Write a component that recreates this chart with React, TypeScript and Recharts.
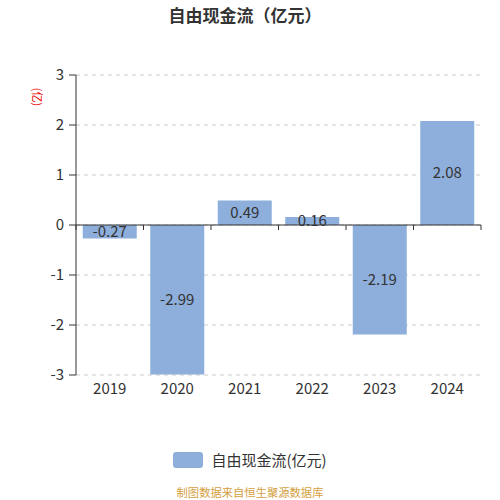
import { Bar, BarChart, CartesianGrid, LabelList, ReferenceLine, XAxis, YAxis } from "recharts";

const years = ["2019", "2020", "2021", "2022", "2023", "2024"];
const freeCashFlow = [-0.27, -2.99, 0.49, 0.16, -2.19, 2.08];
const yTicks = [-3, -2, -1, 0, 1, 2, 3];

const TITLE = "自由现金流（亿元）";
const SERIES_NAME = "自由现金流(亿元)";
const UNIT = "(亿)";
const SOURCE = "制图数据来自恒生聚源数据库";

const BAR_COLOR = "#8eaedb";
const TEXT = "#333";
const FONT = '"Noto Sans CJK SC", "Noto Sans", sans-serif';
const TICK_LEN = 0.1; // zero-line tick length in value units

const data = years.map((year, i) => ({ year, value: freeCashFlow[i] }));

export default function App() {
  return (
    <div
      style={{
        position: "absolute",
        left: 0,
        top: 0,
        width: 500,
        height: 500,
        background: "#fff",
        fontFamily: FONT,
        color: TEXT,
      }}
    >
      <div
        style={{
          position: "absolute",
          top: 4,
          left: 0,
          width: 490,
          textAlign: "center",
          fontSize: 17,
          fontWeight: 700,
          lineHeight: "22px",
        }}
      >
        {TITLE}
      </div>
      <div
        style={{
          position: "absolute",
          left: 29,
          top: 90,
          fontSize: 11,
          color: "#e00",
          transform: "rotate(90deg)",
          transformOrigin: "center",
          lineHeight: "14px",
        }}
      >
        {UNIT}
      </div>

      <BarChart
        width={500}
        height={500}
        data={data}
        margin={{ top: 75, right: 19, bottom: 95, left: 0 }}
        barCategoryGap="10%"
      >
        <CartesianGrid vertical={false} stroke="#ccc" strokeDasharray="4 4" />
        <XAxis
          dataKey="year"
          axisLine={false}
          tickLine={false}
          tickSize={0}
          tickMargin={8}
          height={30}
          tick={{ fontSize: 15, fill: TEXT }}
        />
        <YAxis
          domain={[-3, 3]}
          ticks={yTicks}
          width={76}
          tickSize={7}
          tickMargin={5}
          axisLine={{ stroke: TEXT }}
          tickLine={{ stroke: TEXT }}
          tick={{ fontSize: 15, fill: TEXT }}
        />
        <Bar dataKey="value" fill={BAR_COLOR} isAnimationActive={false}>
          <LabelList dataKey="value" position="center" fill={TEXT} fontSize={15} />
        </Bar>
        <ReferenceLine y={0} stroke={TEXT} />
        {years.map((year) => (
          <ReferenceLine
            key={year}
            segment={[
              { x: year, y: 0 },
              { x: year, y: -TICK_LEN },
            ]}
            position="start"
            stroke={TEXT}
          />
        ))}
        <ReferenceLine
          segment={[
            { x: years[years.length - 1], y: 0 },
            { x: years[years.length - 1], y: -TICK_LEN },
          ]}
          position="end"
          stroke={TEXT}
        />
      </BarChart>

      <div
        style={{
          position: "absolute",
          top: 451,
          left: 0,
          width: 500,
          display: "flex",
          justifyContent: "center",
          alignItems: "center",
          fontSize: 15,
        }}
      >
        <span
          style={{
            display: "inline-block",
            width: 30,
            height: 16,
            borderRadius: 3,
            background: BAR_COLOR,
            marginRight: 8,
          }}
        />
        <span style={{ lineHeight: "18px" }}>{SERIES_NAME}</span>
      </div>
      <div
        style={{
          position: "absolute",
          top: 484,
          left: 0,
          width: 500,
          textAlign: "center",
          fontSize: 11.3,
          color: "#d4a040",
          lineHeight: "16px",
        }}
      >
        {SOURCE}
      </div>
    </div>
  );
}
